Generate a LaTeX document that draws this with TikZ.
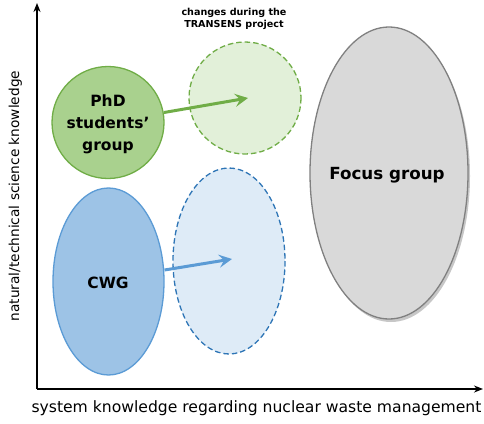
\documentclass[tikz,border=0pt]{standalone}
\usepackage{fontspec}
\setmainfont{DejaVu Sans}
\usetikzlibrary{arrows.meta}
\definecolor{gfill}{HTML}{A9D18E}
\definecolor{gline}{HTML}{70AD47}
\definecolor{glight}{HTML}{E2F0D9}
\definecolor{bfill}{HTML}{9DC3E6}
\definecolor{bline}{HTML}{5B9BD5}
\definecolor{blight}{HTML}{DEEBF7}
\definecolor{bdash}{HTML}{2E75B6}
\definecolor{grfill}{HTML}{D9D9D9}
\definecolor{grline}{HTML}{808080}
\tikzset{
  grptext/.style={font=\bfseries\fontsize{15.5}{22}\selectfont, align=center, inner sep=0pt},
  axis/.style={line width=1.6pt, -{Stealth[length=9pt,width=7pt]}},
  chg/.style={line width=3pt, -{Stealth[length=13pt,width=13pt,inset=5pt]}},
  dashline/.style={line width=1.3pt, dash pattern=on 5.5pt off 3pt},
}
\begin{document}
\begin{tikzpicture}[x=1pt,y=-1pt]
\useasboundingbox (0,0) rectangle (484,423);
% axes
\coordinate (O) at (37,389);
\coordinate (Ytop) at (37,3);
\coordinate (Xend) at (483,389);
\draw[axis] (O) -- (Ytop);
\draw[axis] (O) -- (Xend);
% gray focus group with shadow
\fill[black!22] (391,176) ellipse [x radius=79, y radius=146];
\draw[fill=grfill, draw=grline, line width=1.3pt] (389,173) ellipse [x radius=79, y radius=146];
\node[grptext, font=\bfseries\fontsize{16.7}{22}\selectfont] (focus) at (387,175) {Focus group};
% dashed targets
\draw[fill=glight, draw=gline, dashline] (245,98) circle [radius=56];
\coordinate (gtarget) at (248,98);
\draw[fill=blight, draw=bdash, dashline] (229,261) ellipse [x radius=56, y radius=93];
\coordinate (btarget) at (232,259);
% solid groups
\draw[fill=gfill, draw=gline, line width=1.3pt] (108,122.5) circle [radius=56];
\node[grptext] (phd) at (108,124) {PhD\\students’\\group};
\coordinate (gstart) at (164,112.5);
\draw[fill=bfill, draw=bline, line width=1.3pt] (108.5,281.5) ellipse [x radius=55.5, y radius=93.5];
\node[grptext] (cwg) at (108,283) {CWG};
\coordinate (bstart) at (164.5,270);
% arrows
\draw[chg, draw=gline, color=gline] (gstart) -- (gtarget);
\draw[chg, draw=bline, color=bline] (bstart) -- (btarget);
% labels
\node[font=\bfseries\fontsize{9.6}{12}\selectfont, align=center, inner sep=0pt] (chlabel) at (234,19) {changes during the\\TRANSENS project};
\node[font=\fontsize{15.6}{18}\selectfont, anchor=base, inner sep=0pt] (xlabel) at (256.5,412) {system knowledge regarding nuclear waste management};
\node[font=\fontsize{13.7}{16}\selectfont, rotate=90, anchor=base, inner sep=0pt] (ylabel) at (19,196) {natural/technical science knowledge};
\end{tikzpicture}
\end{document}
